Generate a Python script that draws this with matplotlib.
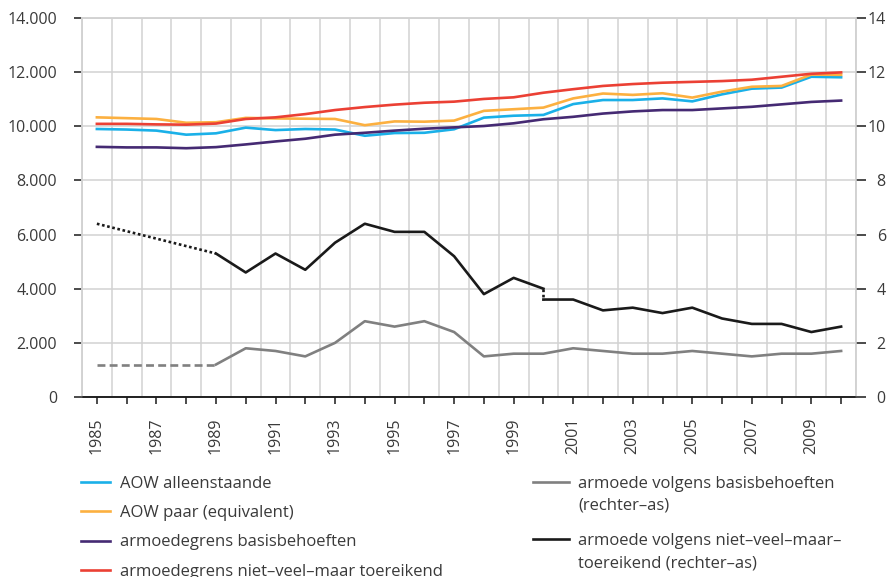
import numpy as np
import matplotlib
matplotlib.use('Agg')
import matplotlib.pyplot as plt
from matplotlib.lines import Line2D

plt.rcParams['font.family'] = ['Open Sans', 'DejaVu Sans']

# jaren en reeksen (linker-as, euro's)
jaren = list(range(1985, 2011))
aow_alleen = [9900, 9880, 9840, 9690, 9740, 9950, 9860, 9900, 9880, 9650,
              9750, 9760, 9890, 10320, 10390, 10420, 10820, 10970, 10970, 11030,
              10920, 11180, 11390, 11430, 11830, 11810]
aow_paar = [10330, 10300, 10270, 10130, 10150, 10310, 10290, 10280, 10270, 10040,
            10180, 10170, 10210, 10570, 10630, 10690, 11030, 11210, 11160, 11220,
            11060, 11280, 11460, 11490, 11910, 11900]
grens_basis = [9240, 9220, 9220, 9190, 9230, 9330, 9440, 9540, 9690, 9760,
               9840, 9910, 9960, 10010, 10110, 10260, 10350, 10470, 10550, 10600,
               10600, 10660, 10720, 10810, 10900, 10950]
grens_nvmt = [10090, 10090, 10070, 10060, 10100, 10270, 10330, 10450, 10600, 10710,
              10800, 10870, 10910, 11010, 11070, 11240, 11370, 11490, 11560, 11610,
              11640, 11670, 11720, 11830, 11940, 11990]

# armoede (rechter-as, procenten)
basis_schat_jaren = [1985, 1989]
basis_schat = [1.2, 1.2]
basis_jaren = list(range(1989, 2011))
basis = [1.2, 1.8, 1.7, 1.5, 2.0, 2.8, 2.6, 2.8, 2.4, 1.5, 1.6, 1.6,
         1.8, 1.7, 1.6, 1.6, 1.7, 1.6, 1.5, 1.6, 1.6, 1.7]

nvmt_schat_jaren = [1985, 1989]
nvmt_schat = [6.4, 5.3]
nvmt_oud_jaren = list(range(1989, 2001))
nvmt_oud = [5.3, 4.6, 5.3, 4.7, 5.7, 6.4, 6.1, 6.1, 5.2, 3.8, 4.4, 4.0]
nvmt_nieuw_jaren = list(range(2000, 2011))
nvmt_nieuw = [3.6, 3.6, 3.2, 3.3, 3.1, 3.3, 2.9, 2.7, 2.7, 2.4, 2.6]

links_ticks = list(range(0, 14001, 2000))
links_labels = ['0', '2.000', '4.000', '6.000', '8.000', '10.000', '12.000', '14.000']
rechts_ticks = list(range(0, 15, 2))
jaar_labels = [str(j) if j % 2 == 1 else '' for j in jaren]

tekst = '#3a3a3a'
raster = '#d2d2d2'
fs = 11.5
fs_leg = 12

W, H = 890, 577
fig = plt.figure(figsize=(W/100, H/100), dpi=100)
ax = fig.add_axes([82/W, 1 - 397/H, (856 - 82)/W, (397 - 18)/H])
ax2 = ax.twinx()

lw = 1.9
l1, = ax.plot(jaren, aow_alleen, color='#1ab0e8', lw=lw, label='AOW alleenstaande')
l2, = ax.plot(jaren, aow_paar, color='#fcb040', lw=lw, label='AOW paar (equivalent)')
l3, = ax.plot(jaren, grens_basis, color='#452a73', lw=lw, label='armoedegrens basisbehoeften')
l4, = ax.plot(jaren, grens_nvmt, color='#eb4034', lw=lw, label='armoedegrens niet\u2013veel\u2013maar toereikend')

grijs = '#808080'
zwart = '#1a1a1a'
ax2.plot(basis_schat_jaren, basis_schat, color=grijs, lw=lw, ls=(0, (3, 1.6)))
l5, = ax2.plot(basis_jaren, basis, color=grijs, lw=lw)
ax2.plot(nvmt_schat_jaren, nvmt_schat, color=zwart, lw=lw, ls=(0, (1, 1)))
l6, = ax2.plot(nvmt_oud_jaren, nvmt_oud, color=zwart, lw=lw)
ax2.plot([nvmt_oud_jaren[-1], nvmt_nieuw_jaren[0]], [nvmt_oud[-1], nvmt_nieuw[0]],
         color=zwart, lw=lw, ls=(0, (1, 1)))
ax2.plot(nvmt_nieuw_jaren, nvmt_nieuw, color=zwart, lw=lw)

ax.set_xlim(1984.5, 2010.5)
ax.set_ylim(0, 14000)
ax2.set_ylim(0, 14)

ax.set_xticks(jaren)
ax.set_xticklabels(jaar_labels, rotation=90, fontsize=fs, color=tekst)
ax.set_xticks(np.arange(1984.5, 2011, 1), minor=True)
ax.set_yticks(links_ticks)
ax.set_yticklabels(links_labels, fontsize=fs, color=tekst)
ax2.set_yticks(rechts_ticks)
ax2.set_yticklabels([str(t) for t in rechts_ticks], fontsize=fs, color=tekst, ha='right')

ax.grid(True, which='minor', axis='x', color=raster, lw=1.1)
ax.grid(True, which='major', axis='y', color=raster, lw=1.1)
ax.tick_params(axis='x', which='major', length=5, width=1.1, color=zwart, pad=9.5)
ax.tick_params(axis='x', which='minor', length=0)
ax.tick_params(axis='y', length=6, width=1.1, color=zwart, pad=12)
ax2.tick_params(axis='y', length=7, width=1.1, color=zwart, pad=14.5)

for a in (ax, ax2):
    for kant in ('left', 'right', 'top'):
        a.spines[kant].set_color(raster)
        a.spines[kant].set_linewidth(1.1)
    a.spines['bottom'].set_color(zwart)
    a.spines['bottom'].set_linewidth(1.1)

leeg = Line2D([], [], color='none')
fs_px = fs_leg * fig.dpi / 72


def midden(artist):
    bb = artist.get_window_extent(fig.canvas.get_renderer())
    return H - (bb.y0 + bb.y1) / 2


def legende(handles, labels, x, y_eerste, afstand, hl, htp):
    # eerst maken, dan regelafstand en positie bijstellen op gemeten pixels
    spacing = 0.5
    top = y_eerste - 10
    for _ in range(3):
        leg = fig.legend(handles, labels, loc='upper left',
                         bbox_to_anchor=(x / W, 1 - top / H),
                         bbox_transform=fig.transFigure, frameon=False,
                         borderpad=0, borderaxespad=0, fontsize=fs_leg,
                         labelcolor=tekst, handlelength=hl, handletextpad=htp,
                         labelspacing=spacing)
        fig.canvas.draw()
        t = leg.get_texts()
        pitch = (midden(t[-1]) - midden(t[0])) / (len(t) - 1)
        y0 = midden(leg.legend_handles[0])
        spacing += (afstand - pitch) / fs_px
        top += y_eerste - y0
        leg.remove()
    return fig.legend(handles, labels, loc='upper left',
                      bbox_to_anchor=(x / W, 1 - top / H),
                      bbox_transform=fig.transFigure, frameon=False,
                      borderpad=0, borderaxespad=0, fontsize=fs_leg,
                      labelcolor=tekst, handlelength=hl, handletextpad=htp,
                      labelspacing=spacing)


legende([l1, l2, l3, l4], [l.get_label() for l in (l1, l2, l3, l4)],
        81, 482, 29.3, 29 / fs_px, 10 / fs_px)
legende([l5, leeg], ['armoede volgens basisbehoeften', '(rechter\u2013as)'],
        533, 482, 21.5, 36 / fs_px, 9 / fs_px)
legende([l6, leeg], ['armoede volgens niet\u2013veel\u2013maar\u2013', 'toereikend (rechter\u2013as)'],
        533, 539, 22.5, 36 / fs_px, 9 / fs_px)

fig.savefig('out.png', dpi=100)
